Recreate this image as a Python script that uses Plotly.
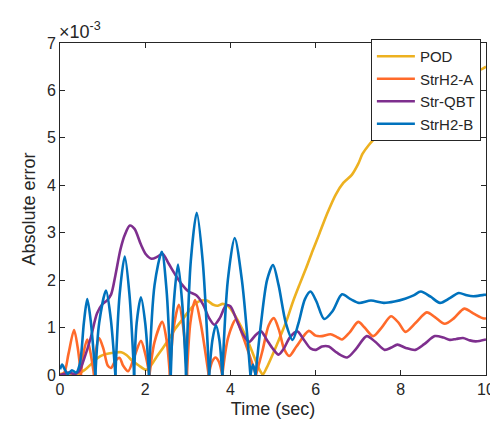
import plotly.graph_objects as go

# Values in units of 1e-3. None marks a break at a sharp zero cusp.
pod_t = [0, 0.2, 0.37, 0.5, 0.6, 0.72, 0.83, 0.95, 1.06, 1.25, 1.44, 1.56, 1.7, 1.85, 2.02, 2.12, 2.25,
         2.4, 2.55, 2.71, 2.9, 3.05, 3.2, 3.32, 3.45, 3.6, 3.7, 3.82, 3.95, 4.09, 4.25, 4.4, 4.55, 4.68,
         4.76, 4.85, 5.0, 5.09, 5.3, 5.47, 5.62, 5.78, 5.93, 6.08, 6.27, 6.47, 6.65, 6.85, 7.0, 7.1, 7.25,
         7.4, 7.7, 8.0, 8.5, 9.0, 9.5, 9.9, 10]
pod_v = [0.02, 0.04, 0.0, 0.06, 0.12, 0.22, 0.32, 0.4, 0.44, 0.47, 0.48, 0.42, 0.3, 0.2, 0.11, 0.18, 0.36,
         0.55, 0.75, 0.98, 1.2, 1.38, 1.52, 1.57, 1.57, 1.48, 1.46, 1.5, 1.45, 1.28, 1.02, 0.74, 0.4, 0.12,
         0.01, 0.15, 0.45, 0.64, 1.1, 1.55, 1.9, 2.26, 2.62, 2.96, 3.4, 3.8, 4.05, 4.22, 4.45, 4.66, 4.85,
         5.0, 5.25, 5.5, 5.85, 6.1, 6.3, 6.45, 6.5]

strh2a_t = [0, 0.1, 0.2, 0.33, 0.42, 0.49, None,
            0.49, 0.56, 0.64, 0.72, 0.8, None,
            0.8, 0.85, 0.92, 1.02, 1.12, 1.2, 1.3, 1.4, 1.48, 1.6, 1.75, 1.9, 2.0, 2.1, None,
            2.1, 2.22, 2.4, 2.5, 2.58, None,
            2.58, 2.66, 2.79, 2.9, 2.98, None,
            2.98, 3.06, 3.17, 3.3, 3.49, None,
            3.49, 3.57, 3.65, 3.73, 3.81, None,
            3.81, 3.95, 4.13, 4.3, 4.6, None,
            4.6, 4.75, 4.9, 5.02, 5.14, 5.26, 5.38, 5.55, 5.84, 6.0, 6.15, 6.35, 6.5, 6.62, 6.8, 7.0,
            7.15, 7.35, 7.55, 7.77, 7.95, 8.11, 8.35, 8.61, 8.8, 9.03, 9.25, 9.49, 9.7, 9.95, 10]
strh2a_v = [0, 0.05, 0.45, 0.95, 0.55, 0, None,
            0, 0.5, 0.75, 0.45, 0, None,
            0, 0.55, 0.78, 0.55, 0.2, 0.15, 0.3, 0.36, 0.2, 0.08, 0.4, 0.72, 0.45, 0, None,
            0, 0.7, 1.12, 0.75, 0, None,
            0, 0.95, 1.48, 0.95, 0, None,
            0, 1.1, 1.58, 1.1, 0, None,
            0, 0.28, 0.37, 0.28, 0, None,
            0, 0.8, 1.17, 0.8, 0, None,
            0, 0.5, 1.05, 1.2, 0.95, 0.55, 0.4, 0.6, 0.93, 0.83, 0.82, 0.86, 0.8, 0.75, 0.9, 1.12,
            1.0, 0.82, 1.0, 1.24, 1.1, 0.91, 1.1, 1.32, 1.22, 1.08, 1.2, 1.4, 1.3, 1.19, 1.2]

strqbt_t = [0, 0.1, 0.2, 0.35, 0.45, 0.55, 0.72, 0.87, 1.0, 1.1, 1.2, 1.3, 1.42, 1.52, 1.64, 1.75, 1.9,
            2.02, 2.15, 2.3, 2.41, 2.55, 2.71, 2.87, 3.02, 3.2, 3.35, 3.5, 3.62, 3.75, 3.9, 4.0, 4.15,
            4.3, 4.44, 4.6, 4.72, 4.85, 5.0, 5.13, 5.25, 5.4, 5.57, 5.72, 5.88, 6.01, 6.15, 6.31, 6.5,
            6.74, 6.95, 7.2, 7.4, 7.62, 7.78, 7.92, 8.12, 8.34, 8.55, 8.8, 9.0, 9.15, 9.3, 9.46, 9.62,
            9.76, 10]
strqbt_v = [0, 0.02, 0.05, 0.02, 0.08, 0.3, 0.78, 1.3, 1.5, 1.57, 1.7, 2.1, 2.65, 2.95, 3.15, 3.08, 2.75,
            2.54, 2.45, 2.5, 2.55, 2.35, 2.11, 1.9, 1.76, 1.68, 1.5, 1.2, 1.06, 1.2, 1.47, 1.45, 1.15,
            0.85, 0.7, 0.85, 0.92, 0.75, 0.55, 0.43, 0.55, 0.8, 0.92, 0.75, 0.56, 0.53, 0.6, 0.6, 0.47,
            0.37, 0.55, 0.82, 0.7, 0.53, 0.58, 0.64, 0.57, 0.53, 0.65, 0.82, 0.79, 0.74, 0.76, 0.78, 0.73,
            0.71, 0.75]

strh2b_t = [0, 0.05, 0.11, 0.18, 0.28, 0.38, 0.47, 0.56, 0.64, 0.72, 0.83, None,
            0.83, 0.92, 1.08, 1.19, 1.3, None,
            1.3, 1.4, 1.52, 1.63, 1.74, None,
            1.74, 1.8, 1.9, 2.0, 2.09, None,
            2.09, 2.22, 2.39, 2.5, 2.6, None,
            2.6, 2.67, 2.77, 2.87, 2.96, None,
            2.96, 3.07, 3.21, 3.35, 3.5, None,
            3.5, 3.58, 3.66, 3.74, 3.81, None,
            3.81, 3.94, 4.1, 4.27, 4.47, None,
            4.47, 4.53, 4.59, None,
            4.59, 4.72, 4.86, 5.0, 5.13, 5.3, 5.46, 5.6, 5.75, 5.88, 6.02, 6.2, 6.4, 6.62, 6.82, 7.02,
            7.3, 7.6, 7.85, 8.1, 8.3, 8.47, 8.7, 8.92, 9.15, 9.36, 9.55, 9.7, 9.95, 10]
strh2b_v = [0.12, 0.22, 0.12, 0.02, 0.1, 0.05, 0.25, 1.1, 1.6, 1.15, 0, None,
            0, 1.1, 1.78, 1.2, 0, None,
            0, 1.7, 2.5, 1.7, 0, None,
            0, 1.1, 1.64, 1.1, 0, None,
            0, 1.9, 2.6, 1.8, 0, None,
            0, 1.5, 2.33, 1.5, 0, None,
            0, 2.4, 3.42, 2.4, 0, None,
            0, 0.75, 1.05, 0.75, 0, None,
            0, 2.0, 2.89, 2.0, 0, None,
            0, 0.22, 0, None,
            0, 1.1, 2.0, 2.32, 1.9, 1.1, 0.74, 1.1, 1.6, 1.76, 1.55, 1.18, 1.35, 1.7, 1.6, 1.52,
            1.57, 1.52, 1.55, 1.61, 1.68, 1.76, 1.65, 1.52, 1.62, 1.73, 1.68, 1.66, 1.69, 1.69]

x_ticks = [0, 2, 4, 6, 8, 10]
y_ticks = [0, 1, 2, 3, 4, 5, 6, 7]

series = [
    ("POD", pod_t, pod_v, "#EDB120"),
    ("StrH2-A", strh2a_t, strh2a_v, "#FF6A2A"),
    ("Str-QBT", strqbt_t, strqbt_v, "#7E2F8E"),
    ("StrH2-B", strh2b_t, strh2b_v, "#0072BD"),
]

fig = go.Figure()
for name, t, v, c in series:
    fig.add_trace(go.Scatter(x=t, y=v, name=name, mode="lines",
                             line=dict(color=c, width=2.6, shape="spline", smoothing=0.8),
                             connectgaps=False))

axis_color = "#262626"
font = "Liberation Sans, Arial, Helvetica, sans-serif"
common = dict(showgrid=False, zeroline=False, showline=True, linecolor=axis_color, linewidth=1,
              mirror="ticks", ticks="inside", ticklen=5, tickcolor=axis_color,
              tickfont=dict(family=font, size=16, color=axis_color))

fig.update_layout(
    width=498, height=421,
    margin=dict(l=52, r=11, t=35, b=54),
    paper_bgcolor="white", plot_bgcolor="white",
    font=dict(family=font, color=axis_color),
    showlegend=True,
    legend=dict(x=0.988, y=1.012, xanchor="right", yanchor="top",
                bgcolor="white", bordercolor=axis_color, borderwidth=1,
                font=dict(family=font, size=15, color=axis_color),
                tracegroupgap=0, itemwidth=38),
    xaxis=dict(range=[0, 10], tickvals=x_ticks, **common,
               title=dict(text="Time (sec)", font=dict(family=font, size=18, color=axis_color), standoff=5)),
    yaxis=dict(range=[0, 7], tickvals=y_ticks, **common,
               title=dict(text="Absolute error", font=dict(family=font, size=18, color=axis_color), standoff=6)),
)
fig.add_annotation(text="×10<sup>-3</sup>", xref="paper", yref="paper", x=0.0, y=1.0,
                   xanchor="left", yanchor="bottom", showarrow=False, xshift=-3, yshift=-1,
                   font=dict(family=font, size=18, color=axis_color))

fig.write_html("out.html")
